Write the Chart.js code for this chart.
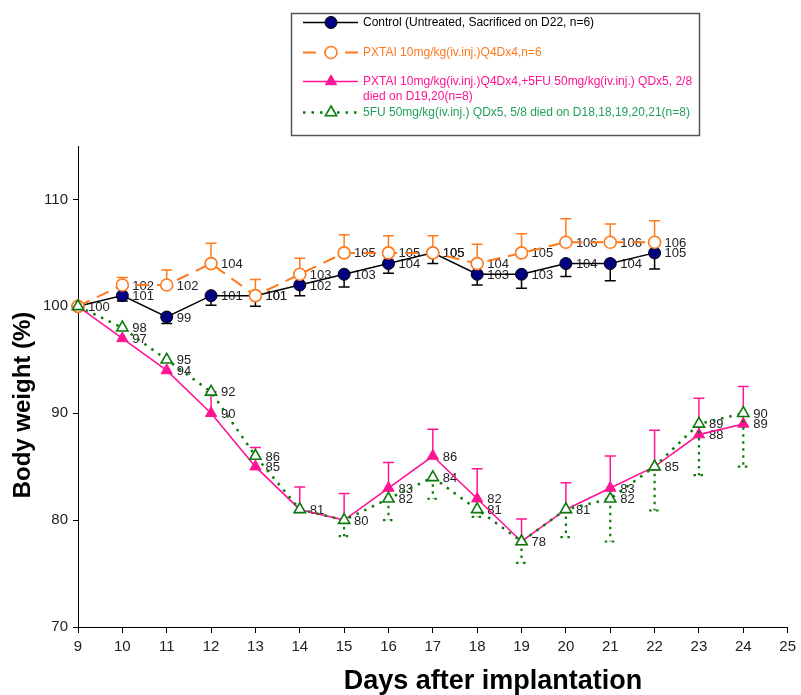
<!DOCTYPE html>
<html><head><meta charset="utf-8">
<script src="https://cdn.jsdelivr.net/npm/chart.js@4"></script>
<style>html,body{margin:0;padding:0;background:#fff}#wrap{width:801px;height:695px}</style>
</head><body><div id="wrap"><canvas id="c" width="801" height="695"></canvas></div>
<script>
// ---- data ----
const daysControl = [9,10,11,12,13,14,15,16,17,18,19,20,21,22];
const control     = [100,101,99,101,101,102,103,104,105,103,103,104,104,105];
const controlErr  = [0,0.5,0.6,0.9,1.0,1.0,1.2,0.9,1.0,1.0,1.3,1.2,1.6,1.5];

const daysPxtai = [9,10,11,12,13,14,15,16,17,18,19,20,21,22];
const pxtai     = [100,102,102,104,101,103,105,105,105,104,105,106,106,106];
const pxtaiErr  = [0,0.7,1.4,1.9,1.5,1.5,1.7,1.6,1.6,1.8,1.8,2.2,1.7,2.0];

const daysCombo = [9,10,11,12,13,14,15,16,17,18,19,20,21,22,23,24];
const combo     = [100,97,94,90,85,81,80,83,86,82,78,81,83,85,88,89];
const comboErr  = [0,0,0,2.0,1.8,2.1,2.5,2.4,2.5,2.8,2.1,2.5,3.0,3.4,3.4,3.5];

const daysFu = [9,10,11,12,13,14,15,16,17,18,19,20,21,22,23,24];
const fu     = [100,98,95,92,86,81,80,82,84,81,78,81,82,85,89,90];
const fuErr  = [0,0,0,0,0,0,1.5,2.0,2.0,0.7,2.0,2.6,4.0,4.1,4.8,5.0];

const seriesLabels = [
  'Control (Untreated, Sacrificed on D22, n=6)',
  'PXTAI 10mg/kg(iv.inj.)Q4Dx4,n=6',
  'PXTAI 10mg/kg(iv.inj.)Q4Dx4,+5FU 50mg/kg(iv.inj.) QDx5, 2/8|died on D19,20(n=8)',
  '5FU 50mg/kg(iv.inj.) QDx5, 5/8 died on D18,18,19,20,21(n=8)'
];
const xTitle = 'Days after implantation';
const yTitle = 'Body weight (%)';

const pts = (xs, ys) => xs.map((x, i) => ({x: x, y: ys[i]}));

const FONT = "'Liberation Sans', Arial, sans-serif";

const datasets = [
  {label: seriesLabels[0], data: pts(daysControl, control), err: controlErr, errDir: -1,
   borderColor: '#000', borderWidth: 1.5, pointStyle: 'circle', pointRadius: 6,
   pointBackgroundColor: '#000080', pointBorderColor: '#000', pointBorderWidth: 1,
   errColor: '#000', errDash: [], legendText: '#000', order: 4},
  {label: seriesLabels[1], data: pts(daysPxtai, pxtai), err: pxtaiErr, errDir: 1,
   borderColor: '#FF7A1F', borderWidth: 2, borderDash: [13, 8], pointStyle: 'circle', pointRadius: 6,
   pointBackgroundColor: '#fff', pointBorderColor: '#FF7A1F', pointBorderWidth: 1.6,
   errColor: '#FF7A1F', errDash: [], legendText: '#FF7A1F', order: 3},
  {label: seriesLabels[2], data: pts(daysCombo, combo), err: comboErr, errDir: 1,
   borderColor: '#FF1493', borderWidth: 1.6, pointStyle: 'triangle', pointRadius: 6.5,
   pointBackgroundColor: '#FF1493', pointBorderColor: '#FF1493', pointBorderWidth: 1,
   errColor: '#FF1493', errDash: [], legendText: '#FF1493', order: 2},
  {label: seriesLabels[3], data: pts(daysFu, fu), err: fuErr, errDir: -1,
   borderColor: '#0A7A0A', borderWidth: 2.5, borderDash: [2.5, 6], pointStyle: 'triangle', pointRadius: 6.5,
   pointBackgroundColor: '#fff', pointBorderColor: '#0A7A0A', pointBorderWidth: 1.6,
   errColor: '#0A7A0A', errDash: [2.5, 4.5], legendText: '#22A060', order: 1}
];
datasets.forEach(d => { d.clip = false; d.tension = 0; d.fill = false; });

const errPlugin = {
  id: 'errbars',
  beforeDatasetDraw(chart, args) {
    const ds = chart.data.datasets[args.index];
    const ys = chart.scales.y, ctx = chart.ctx;
    ctx.save();
    ctx.strokeStyle = ds.errColor;
    ctx.lineWidth = ds.errDash.length ? 2.2 : 1.5;
    ctx.setLineDash(ds.errDash);
    ds.err.forEach((e, i) => {
      if (!e) return;
      const p = args.meta.data[i];
      const py = ys.getPixelForValue(ds.data[i].y + ds.errDir * e);
      ctx.beginPath();
      ctx.moveTo(p.x, p.y); ctx.lineTo(p.x, py);
      ctx.moveTo(p.x - 5.5, py); ctx.lineTo(p.x + 5.5, py);
      ctx.stroke();
    });
    ctx.restore();
  }
};

const labelPlugin = {
  id: 'vallabels',
  beforeDatasetsDraw(chart) {
    const ctx = chart.ctx;
    ctx.save();
    ctx.font = '13px ' + FONT;
    ctx.fillStyle = '#222';
    ctx.textAlign = 'left';
    ctx.textBaseline = 'middle';
    const drawn = {};
    chart.data.datasets.forEach((ds, di) => {
      const meta = chart.getDatasetMeta(di);
      meta.data.forEach((p, i) => {
        const key = ds.data[i].x + '_' + ds.data[i].y;
        const prev = drawn[key];
        // the control / PXTAI pair overlaps (appears bold); other duplicates are drawn once
        if (prev !== undefined && !(prev === 0 && di === 1 && ds.data[i].x > 9)) return;
        if (prev === undefined) drawn[key] = di;
        ctx.fillText(String(ds.data[i].y), p.x + 10, p.y + 1);
      });
    });
    ctx.restore();
  }
};

function drawMarker(ctx, ds, x, y) {
  ctx.save();
  ctx.setLineDash([]);
  ctx.fillStyle = ds.pointBackgroundColor;
  ctx.strokeStyle = ds.pointBorderColor;
  ctx.lineWidth = ds.pointBorderWidth;
  ctx.beginPath();
  const r = ds.pointRadius;
  if (ds.pointStyle === 'circle') {
    ctx.arc(x, y, r, 0, Math.PI * 2);
  } else {
    const w = r * Math.sqrt(3) / 2;
    ctx.moveTo(x, y - r);
    ctx.lineTo(x + w, y + r / 2);
    ctx.lineTo(x - w, y + r / 2);
    ctx.closePath();
  }
  ctx.fill(); ctx.stroke();
  ctx.restore();
}

const extrasPlugin = {
  id: 'extras',
  afterDraw(chart) {
    const ctx = chart.ctx;
    // legend box
    ctx.save();
    ctx.strokeStyle = '#555';
    ctx.lineWidth = 1.5;
    ctx.strokeRect(291.5, 13.5, 408, 122);
    const rows = [22.5, 52.5, 81.5, 112.5];
    ctx.font = '12px ' + FONT;
    ctx.textBaseline = 'middle';
    ctx.textAlign = 'left';
    chart.data.datasets.forEach((ds, i) => {
      const y = rows[i];
      ctx.save();
      ctx.strokeStyle = ds.borderColor;
      ctx.lineWidth = ds.borderWidth;
      ctx.setLineDash(ds.borderDash || []);
      ctx.beginPath(); ctx.moveTo(303, y); ctx.lineTo(358, y); ctx.stroke();
      ctx.restore();
      drawMarker(ctx, ds, 331, y);
      ctx.fillStyle = ds.legendText;
      const lines = ds.label.split('|');
      lines.forEach((t, k) => ctx.fillText(t, 363, y + k * 15));
    });
    ctx.restore();

    // axis titles
    ctx.save();
    ctx.fillStyle = '#000';
    ctx.font = 'bold 27px ' + FONT;
    ctx.textAlign = 'center';
    ctx.textBaseline = 'alphabetic';
    ctx.fillText(xTitle, 493, 689);
    ctx.translate(30, 405);
    ctx.rotate(-Math.PI / 2);
    ctx.font = 'bold 24px ' + FONT;
    ctx.fillText(yTitle, 0, 0);
    ctx.restore();
  }
};

new Chart(document.getElementById('c'), {
  type: 'line',
  data: {datasets: datasets},
  options: {
    responsive: false,
    devicePixelRatio: 1,
    animation: false,
    layout: {padding: {top: 146, right: 9, left: 0, bottom: 0}},
    plugins: {legend: {display: false}, tooltip: {enabled: false}, title: {display: false}},
    scales: {
      x: {
        type: 'linear', min: 9, max: 25,
        ticks: {stepSize: 1, color: '#222', font: {family: FONT, size: 15}, padding: 5, maxRotation: 0, autoSkip: false},
        grid: {drawOnChartArea: false, drawTicks: true, tickLength: 6, color: '#000'},
        border: {display: true, color: '#000', width: 1},
        afterFit: s => { s.height = 68; }
      },
      y: {
        type: 'linear', min: 70, max: 115,
        ticks: {stepSize: 10, color: '#222', font: {family: FONT, size: 15}, padding: 5},
        afterBuildTicks: s => { s.ticks = s.ticks.filter(t => t.value % 10 === 0); },
        grid: {drawOnChartArea: false, drawTicks: true, tickLength: 5, color: '#000'},
        border: {display: true, color: '#000', width: 1},
        afterFit: s => { s.width = 78; }
      }
    }
  },
  plugins: [errPlugin, labelPlugin, extrasPlugin]
});
</script>
</body></html>
